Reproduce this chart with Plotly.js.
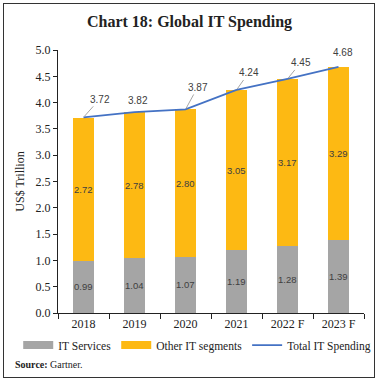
<!DOCTYPE html>
<html><head><meta charset="utf-8">
<script src="https://cdn.plot.ly/plotly-3.0.1.min.js"></script>
<style>body{margin:0;padding:0;background:#fff}#wrap{position:relative;width:379px;height:380px}#chart{width:379px;height:380px}#frame{position:absolute;left:3px;top:3px;width:370px;height:373px;border:1px solid #333;pointer-events:none}</style>
</head><body><div id="wrap"><div id="chart"></div><div id="frame"></div></div>
<script>
const categories = ["2018","2019","2020","2021","2022 F","2023 F"];
const itServices = [0.99,1.04,1.07,1.19,1.28,1.39];
const otherIT = [2.72,2.78,2.80,3.05,3.17,3.29];
const totalIT = [3.72,3.82,3.87,4.24,4.45,4.68];
const yTicks = [0,0.5,1,1.5,2,2.5,3,3.5,4,4.5,5];

const serif = "Liberation Serif, serif";
const sans = "Liberation Sans, sans-serif";
const grey = "#A5A5A5", orange = "#FDB913", blue = "#4472C4";
const labelOffsets = [[16,-18,true],[3,-12,false],[12,-22,true],[12,-17,true],[13,-16,true],[4,-14,false]];

const traces = [
  {type:"bar", name:"IT Services", x:categories, y:itServices, marker:{color:grey},
   width:0.4, hoverinfo:"none", showlegend:false},
  {type:"bar", name:"Other IT segments", x:categories, y:otherIT, marker:{color:orange},
   width:0.4, hoverinfo:"none", showlegend:false},
  {type:"scatter", mode:"lines", name:"IT Services", x:[null], y:[null], line:{color:grey,width:8}, hoverinfo:"none"},
  {type:"scatter", mode:"lines", name:"Other IT segments", x:[null], y:[null], line:{color:orange,width:8}, hoverinfo:"none"},
  {type:"scatter", mode:"lines", name:"Total IT Spending", x:categories, y:totalIT,
   line:{color:blue,width:1.8}, hoverinfo:"none"}
];

const annotations = [];
const segFont = {family:sans,size:9.5,color:"#404040"};
itServices.forEach((v,i)=>annotations.push({x:i, y:v/2, xref:"x", yref:"y", text:v.toFixed(2), showarrow:false, font:segFont}));
otherIT.forEach((v,i)=>annotations.push({x:i, y:itServices[i]+v/2, xref:"x", yref:"y", text:v.toFixed(2), showarrow:false, font:segFont}));
totalIT.forEach((v,i)=>annotations.push({
  x:i, y:v, xref:"x", yref:"y", text:v.toFixed(2), showarrow:true,
  ax:labelOffsets[i][0], ay:labelOffsets[i][1], arrowhead:0, arrowwidth:1,
  arrowcolor: labelOffsets[i][2] ? "#A6A6A6" : "rgba(0,0,0,0)", standoff:1,
  font:{family:sans,size:10,color:"#404040"}
}));
annotations.push({xref:"paper",yref:"paper",x:-0.148,y:-0.195,xanchor:"left",yanchor:"middle",
  text:"<b>Source:</b> Gartner.", showarrow:false, font:{family:serif,size:10,color:"#222"}});

const layout = {
  width:379, height:380,
  margin:{l:58,r:15,t:50,b:67},
  paper_bgcolor:"#fff", plot_bgcolor:"#fff",
  title:{text:"<b>Chart 18: Global IT Spending</b>", font:{family:serif,size:16,color:"#222"}, x:0.5, xanchor:"center", y:0.945, yanchor:"middle"},
  barmode:"stack",
  showlegend:true,
  legend:{orientation:"h", x:-0.13, xanchor:"left", y:-0.122, yanchor:"middle",
    font:{family:serif,size:11.5,color:"#222"}, traceorder:"normal", itemwidth:30, tracegroupgap:0},
  xaxis:{type:"category", range:[-0.5,5.5], showline:true, linecolor:"#222", linewidth:1, ticks:"outside", tickson:"boundaries", ticklen:5, tickcolor:"#222",
    tickfont:{family:serif,size:12,color:"#222"}, showgrid:false, zeroline:false, fixedrange:true},
  yaxis:{range:[0,5], tickvals:yTicks, ticktext:yTicks.map(v=>v.toFixed(1)), showline:true, linecolor:"#222", linewidth:1,
    ticks:"outside", ticklen:4, tickcolor:"#222", tickfont:{family:serif,size:12,color:"#222"}, showgrid:false, zeroline:false,
    title:{text:"US$ Trillion", font:{family:serif,size:12,color:"#222"}, standoff:8}, fixedrange:true},
  annotations:annotations
};
Plotly.newPlot("chart", traces, layout, {displayModeBar:false, staticPlot:true});
</script></body></html>
